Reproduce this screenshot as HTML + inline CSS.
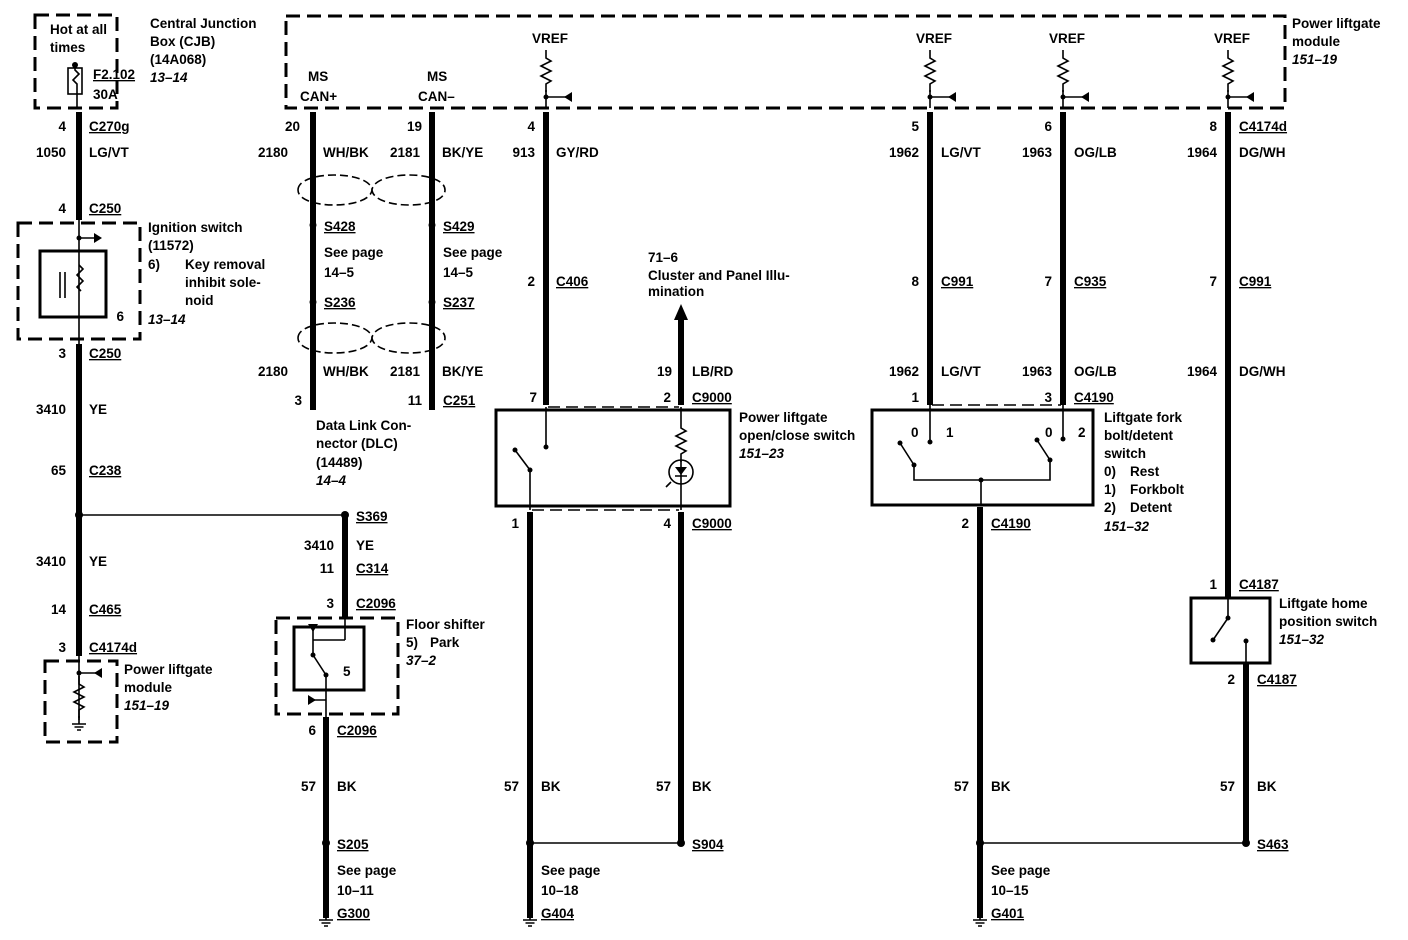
<!DOCTYPE html>
<html><head><meta charset="utf-8"><style>
html,body{margin:0;padding:0;background:#fff}
svg{display:block}
text{font-family:"Liberation Sans",Arial,sans-serif;font-weight:bold;font-size:13.5px;fill:#000}
.e{text-anchor:end}
.u{text-decoration:underline}
.i{font-style:italic}
.w{stroke:#000;stroke-width:6;fill:none}
.t{stroke:#000;stroke-width:1.6;fill:none}
.d{stroke:#000;stroke-width:3;fill:none;stroke-dasharray:14 7}
.dd{stroke:#000;stroke-width:1.6;fill:none;stroke-dasharray:12 6}
.b{stroke:#000;stroke-width:3;fill:none}
</style></head><body>
<svg width="1408" height="940" viewBox="0 0 1408 940" xmlns="http://www.w3.org/2000/svg">
<defs>
<g id="res"><path class="t" d="M0,0 v8 l5,3 l-10,5 l10,5 l-10,5 l10,5 l-5,3 v8"/></g>
<g id="gnd"><path class="t" d="M0,0 v8 M-7,8 h14 M-4.5,11 h9 M-2,14 h4"/></g>
</defs>

<rect class="d" x="35" y="15" width="82" height="93"/>
<text x="50" y="34">Hot at all</text>
<text x="50" y="52">times</text>
<rect class="t" x="68" y="68" width="14" height="26"/>
<path class="t" d="M75,64 v6 l4,4 l-6,6 l4,4 v24"/>
<circle cx="75" cy="65" r="3"/>
<text x="93" y="79" class="u">F2.102</text>
<text x="93" y="99">30A</text>
<text x="150" y="28">Central Junction</text>
<text x="150" y="46">Box (CJB)</text>
<text x="150" y="64">(14A068)</text>
<text x="150" y="82" class="i">13–14</text>

<rect class="d" x="286" y="16" width="999" height="92"/>
<text x="1292" y="28">Power liftgate</text>
<text x="1292" y="46">module</text>
<text x="1292" y="64" class="i">151–19</text>
<text x="308" y="81">MS</text><text x="300" y="101">CAN+</text>
<text x="427" y="81">MS</text><text x="418" y="101">CAN–</text>
<g>
<text x="532" y="43">VREF</text><use href="#res" x="546" y="50"/><path class="t" d="M546,90 v18 M546,97 h22"/><path d="M572,92 v10 l-8,-5z"/>
<text x="916" y="43">VREF</text><use href="#res" x="930" y="50"/><path class="t" d="M930,90 v18 M930,97 h22"/><path d="M956,92 v10 l-8,-5z"/>
<text x="1049" y="43">VREF</text><use href="#res" x="1063" y="50"/><path class="t" d="M1063,90 v18 M1063,97 h22"/><path d="M1089,92 v10 l-8,-5z"/>
<text x="1214" y="43">VREF</text><use href="#res" x="1228" y="50"/><path class="t" d="M1228,90 v18 M1228,97 h22"/><path d="M1254,92 v10 l-8,-5z"/>
</g>
<circle cx="546" cy="97" r="2.5"/><circle cx="930" cy="97" r="2.5"/><circle cx="1063" cy="97" r="2.5"/><circle cx="1228" cy="97" r="2.5"/>

<path class="w" d="M79,112 V220 M79,344 V656"/>
<path class="t" d="M79,220 V344"/>
<text x="66" y="131" class="e">4</text><text x="89" y="131" class="u">C270g</text>
<text x="66" y="157" class="e">1050</text><text x="89" y="157">LG/VT</text>
<text x="66" y="213" class="e">4</text><text x="89" y="213" class="u">C250</text>
<rect class="d" x="18" y="223" width="122" height="116"/>
<path class="t" d="M79,238 h18"/><path d="M94,233 v10 l8,-5z"/><circle cx="79" cy="238" r="2.5"/>
<rect class="b" x="40" y="251" width="66" height="66"/>
<path class="t" d="M60,272 v26 M65,272 v26 M79,265 l4,4 l-6,6 l6,6 l-6,6 l4,4"/>
<text x="124" y="321" class="e">6</text>
<text x="148" y="232">Ignition switch</text>
<text x="148" y="250">(11572)</text>
<text x="148" y="269">6)</text><text x="185" y="269">Key removal</text>
<text x="185" y="287">inhibit sole-</text>
<text x="185" y="305">noid</text>
<text x="148" y="324" class="i">13–14</text>
<text x="66" y="358" class="e">3</text><text x="89" y="358" class="u">C250</text>
<text x="66" y="414" class="e">3410</text><text x="89" y="414">YE</text>
<text x="66" y="475" class="e">65</text><text x="89" y="475" class="u">C238</text>
<circle cx="79" cy="515" r="4"/>
<path class="t" d="M79,515 H345"/>
<text x="66" y="566" class="e">3410</text><text x="89" y="566">YE</text>
<text x="66" y="614" class="e">14</text><text x="89" y="614" class="u">C465</text>
<text x="66" y="652" class="e">3</text><text x="89" y="652" class="u">C4174d</text>
<rect class="d" x="45" y="661" width="72" height="81"/>
<path class="t" d="M79,656 V720"/>
<use href="#res" x="79" y="676"/><use href="#gnd" x="79" y="716"/>
<path class="t" d="M79,673 h18"/><path d="M102,668 v10 l-8,-5z"/><circle cx="79" cy="673" r="2.5"/>
<text x="124" y="674">Power liftgate</text>
<text x="124" y="692">module</text>
<text x="124" y="710" class="i">151–19</text>

<path class="w" d="M313,112 V410 M432,112 V410"/>
<text x="300" y="131" class="e">20</text><text x="422" y="131" class="e">19</text>
<text x="288" y="157" class="e">2180</text><text x="323" y="157">WH/BK</text>
<text x="420" y="157" class="e">2181</text><text x="442" y="157">BK/YE</text>
<path class="t" d="M298,190 C298,170 370,170 372,190 C374,210 445,210 445,190 C445,170 374,170 372,190 C370,210 298,210 298,190Z" stroke-dasharray="8 4"/>
<path class="t" d="M298,338 C298,318 370,318 372,338 C374,358 445,358 445,338 C445,318 374,318 372,338 C370,358 298,358 298,338Z" stroke-dasharray="8 4"/>
<circle cx="313" cy="225" r="3.5"/><circle cx="432" cy="225" r="3.5"/>
<circle cx="313" cy="302" r="3.5"/><circle cx="432" cy="302" r="3.5"/>
<text x="324" y="231" class="u">S428</text><text x="443" y="231" class="u">S429</text>
<text x="324" y="257">See page</text><text x="443" y="257">See page</text>
<text x="324" y="277">14–5</text><text x="443" y="277">14–5</text>
<text x="324" y="307" class="u">S236</text><text x="443" y="307" class="u">S237</text>
<text x="288" y="376" class="e">2180</text><text x="323" y="376">WH/BK</text>
<text x="420" y="376" class="e">2181</text><text x="442" y="376">BK/YE</text>
<text x="302" y="405" class="e">3</text><text x="422" y="405" class="e">11</text>
<text x="443" y="405" class="u">C251</text>
<text x="316" y="430">Data Link Con-</text>
<text x="316" y="448">nector (DLC)</text>
<text x="316" y="467">(14489)</text>
<text x="316" y="485" class="i">14–4</text>

<path class="w" d="M546,112 V405"/>
<text x="535" y="131" class="e">4</text>
<text x="535" y="157" class="e">913</text><text x="556" y="157">GY/RD</text>
<text x="535" y="286" class="e">2</text><text x="556" y="286" class="u">C406</text>
<text x="648" y="262">71–6</text>
<text x="648" y="280">Cluster and Panel Illu-</text>
<text x="648" y="296">mination</text>
<path class="w" d="M681,318 V405"/><path d="M674,320 L681,304 L688,320Z"/>
<text x="672" y="376" class="e">19</text><text x="692" y="376">LB/RD</text>
<text x="537" y="402" class="e">7</text><text x="671" y="402" class="e">2</text><text x="692" y="402" class="u">C9000</text>
<path class="dd" d="M548,407 H679 M532,510 H679"/>
<rect class="b" x="496" y="410" width="234" height="96"/>
<path class="t" d="M546,407 V447 M681,407 V420 M681,460 V510 M530,470 V510 M530,470 L515,450"/>
<circle cx="546" cy="447" r="2.5"/><circle cx="530" cy="470" r="2.5"/><circle cx="515" cy="450" r="2.5"/>
<use href="#res" x="681" y="420"/>
<circle class="t" cx="681" cy="472" r="12"/>
<path d="M675,467 h12 l-6,8z"/><path class="t" d="M675,476 h12 M671,482 l-5,5"/>
<text x="739" y="422">Power liftgate</text>
<text x="739" y="440">open/close switch</text>
<text x="739" y="458" class="i">151–23</text>
<path class="w" d="M530,512 V918 M681,512 V843"/>
<text x="519" y="528" class="e">1</text><text x="671" y="528" class="e">4</text><text x="692" y="528" class="u">C9000</text>
<text x="519" y="791" class="e">57</text><text x="541" y="791">BK</text>
<text x="671" y="791" class="e">57</text><text x="692" y="791">BK</text>
<path class="t" d="M530,843 H681"/><circle cx="530" cy="843" r="4"/><circle cx="681" cy="843" r="4"/>
<text x="692" y="849" class="u">S904</text>
<text x="541" y="875">See page</text><text x="541" y="895">10–18</text>
<use href="#gnd" x="530" y="912"/><text x="541" y="918" class="u">G404</text>

<path class="w" d="M345,515 V617 M326,717 V918"/>
<circle cx="345" cy="515" r="4"/>
<text x="356" y="521" class="u">S369</text>
<text x="334" y="550" class="e">3410</text><text x="356" y="550">YE</text>
<text x="334" y="573" class="e">11</text><text x="356" y="573" class="u">C314</text>
<text x="334" y="608" class="e">3</text><text x="356" y="608" class="u">C2096</text>
<rect class="d" x="276" y="618" width="122" height="96"/>
<rect class="b" x="294" y="627" width="70" height="63"/>
<path class="t" d="M313,626 V655 M345,618 V640 M313,640 H345 M313,655 L326,675 M326,675 V717 M310,700 H326"/>
<path d="M308,624 h10 l-5,8z"/><path d="M308,695 v10 l8,-5z"/>
<circle cx="313" cy="655" r="2.5"/><circle cx="326" cy="675" r="2.5"/>
<text x="343" y="676">5</text>
<text x="406" y="629">Floor shifter</text>
<text x="406" y="647">5)</text><text x="430" y="647">Park</text>
<text x="406" y="665" class="i">37–2</text>
<text x="316" y="735" class="e">6</text><text x="337" y="735" class="u">C2096</text>
<text x="316" y="791" class="e">57</text><text x="337" y="791">BK</text>
<circle cx="326" cy="843" r="4"/>
<text x="337" y="849" class="u">S205</text>
<text x="337" y="875">See page</text><text x="337" y="895">10–11</text>
<use href="#gnd" x="326" y="912"/><text x="337" y="918" class="u">G300</text>

<path class="w" d="M930,112 V405 M1063,112 V405"/>
<text x="919" y="131" class="e">5</text><text x="1052" y="131" class="e">6</text>
<text x="919" y="157" class="e">1962</text><text x="941" y="157">LG/VT</text>
<text x="1052" y="157" class="e">1963</text><text x="1074" y="157">OG/LB</text>
<text x="919" y="286" class="e">8</text><text x="941" y="286" class="u">C991</text>
<text x="1052" y="286" class="e">7</text><text x="1074" y="286" class="u">C935</text>
<text x="919" y="376" class="e">1962</text><text x="941" y="376">LG/VT</text>
<text x="1052" y="376" class="e">1963</text><text x="1074" y="376">OG/LB</text>
<text x="919" y="402" class="e">1</text><text x="1052" y="402" class="e">3</text><text x="1074" y="402" class="u">C4190</text>
<path class="dd" d="M932,405 H1061"/>
<rect class="b" x="872" y="410" width="221" height="95"/>
<path class="t" d="M930,405 V442 M1063,405 V439 M914,465 L900,443 M1050,460 L1037,440 M914,465 V480 H1050 V460 M981,480 V505"/>
<circle cx="930" cy="442" r="2.5"/><circle cx="1063" cy="439" r="2.5"/><circle cx="900" cy="443" r="2.5"/><circle cx="1037" cy="440" r="2.5"/><circle cx="914" cy="465" r="2.5"/><circle cx="1050" cy="460" r="2.5"/><circle cx="981" cy="480" r="2.5"/>
<text x="911" y="437">0</text><text x="946" y="437">1</text><text x="1045" y="437">0</text><text x="1078" y="437">2</text>
<text x="1104" y="422">Liftgate fork</text>
<text x="1104" y="440">bolt/detent</text>
<text x="1104" y="458">switch</text>
<text x="1104" y="476">0)</text><text x="1130" y="476">Rest</text>
<text x="1104" y="494">1)</text><text x="1130" y="494">Forkbolt</text>
<text x="1104" y="512">2)</text><text x="1130" y="512">Detent</text>
<text x="1104" y="531" class="i">151–32</text>
<path class="w" d="M980,507 V918"/>
<text x="969" y="528" class="e">2</text><text x="991" y="528" class="u">C4190</text>
<text x="969" y="791" class="e">57</text><text x="991" y="791">BK</text>
<path class="t" d="M980,843 H1246"/><circle cx="980" cy="843" r="4"/><circle cx="1246" cy="843" r="4"/>
<text x="991" y="875">See page</text><text x="991" y="895">10–15</text>
<use href="#gnd" x="980" y="912"/><text x="991" y="918" class="u">G401</text>

<path class="w" d="M1228,112 V597 M1246,663 V843"/>
<text x="1217" y="131" class="e">8</text><text x="1239" y="131" class="u">C4174d</text>
<text x="1217" y="157" class="e">1964</text><text x="1239" y="157">DG/WH</text>
<text x="1217" y="286" class="e">7</text><text x="1239" y="286" class="u">C991</text>
<text x="1217" y="376" class="e">1964</text><text x="1239" y="376">DG/WH</text>
<text x="1217" y="589" class="e">1</text><text x="1239" y="589" class="u">C4187</text>
<rect class="b" x="1191" y="598" width="79" height="65"/>
<path class="t" d="M1228,598 V618 L1213,640 M1246,641 V663"/>
<circle cx="1228" cy="618" r="2.5"/><circle cx="1213" cy="640" r="2.5"/><circle cx="1246" cy="641" r="2.5"/>
<text x="1279" y="608">Liftgate home</text>
<text x="1279" y="626">position switch</text>
<text x="1279" y="644" class="i">151–32</text>
<text x="1235" y="684" class="e">2</text><text x="1257" y="684" class="u">C4187</text>
<text x="1235" y="791" class="e">57</text><text x="1257" y="791">BK</text>
<text x="1257" y="849" class="u">S463</text>
</svg>
</body></html>
